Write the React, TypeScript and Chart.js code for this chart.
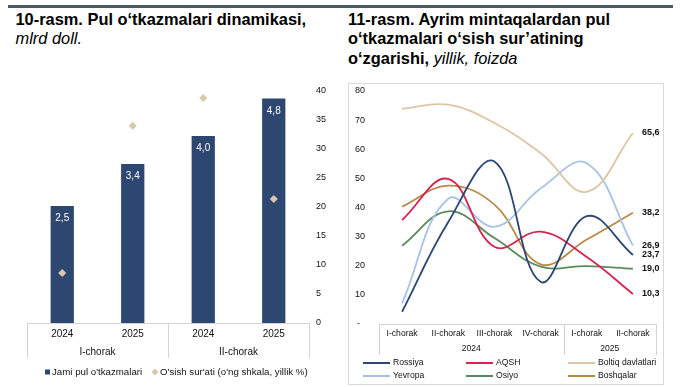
import React, { useEffect, useRef } from 'react';
import { Chart, registerables } from 'chart.js';

Chart.register(...registerables);

const FONT = '"Liberation Sans", Arial, Helvetica, sans-serif';

// ---- Left chart (10-rasm) data ----
const leftYears = ['2024', '2025', '2024', '2025'];
const leftGroups = ['I-chorak', 'II-chorak'];
const totalTransfers = [2.5, 3.4, 4.0, 4.8];
const growthRate = [8.6, 34.0, 38.8, 21.4];
const leftLegend = ["Jami pul o'tkazmalari", "O'sish sur'ati (o'ng shkala, yillik %)"];

// ---- Right chart (11-rasm) data ----
const quarters = ['I-chorak', 'II-chorak', 'III-chorak', 'IV-chorak', 'I-chorak', 'II-chorak'];
const quarterYears = ['2024', '2025'];
const rossiya = [4.2, 35.0, 55.8, 14.5, 37.0, 23.7];
const aqsh = [35.7, 49.8, 26.5, 31.7, 23.0, 10.3];
const boltiq = [73.9, 75.3, 69.0, 58.7, 45.4, 65.6];
const yevropa = [7.1, 43.0, 33.4, 46.5, 55.2, 26.9];
const osiyo = [26.9, 38.7, 29.5, 19.7, 19.9, 19.0];
const boshqalar = [40.3, 47.5, 41.0, 20.5, 29.0, 38.2];

const fmt = (v: number) => v.toFixed(1).replace('.', ',');

const BAR_COLOR = '#2E4770';
const DIAMOND_COLOR = '#D8C8AC';
const GRID_LINE = '#D3D3D3';
const TEXT = '#111111';

const leftDecor = {
  id: 'leftDecor',
  afterDraw(chart: any) {
    const ctx = chart.ctx as CanvasRenderingContext2D;
    const x = chart.scales.x;
    const a = chart.chartArea;
    ctx.save();
    ctx.strokeStyle = GRID_LINE;
    ctx.lineWidth = 1;
    ctx.beginPath();
    ctx.moveTo(a.left, Math.round(a.bottom) + 0.5);
    ctx.lineTo(a.right, Math.round(a.bottom) + 0.5);
    const mid = (x.getPixelForValue(1) + x.getPixelForValue(2)) / 2;
    [a.left, mid, a.right].forEach((px: number) => {
      const xx = Math.round(px) + 0.5;
      ctx.moveTo(xx, a.bottom);
      ctx.lineTo(xx, a.bottom + 35);
    });
    ctx.stroke();

    ctx.fillStyle = TEXT;
    ctx.font = `10px ${FONT}`;
    ctx.textAlign = 'center';
    ctx.textBaseline = 'middle';
    leftYears.forEach((y, i) => ctx.fillText(y, x.getPixelForValue(i), a.bottom + 11.5));
    leftGroups.forEach((g, gi) => {
      const c = (x.getPixelForValue(gi * 2) + x.getPixelForValue(gi * 2 + 1)) / 2;
      ctx.fillText(g, c, a.bottom + 29.5);
    });

    // bar value labels
    const meta = chart.getDatasetMeta(0);
    ctx.fillStyle = '#FFFFFF';
    ctx.font = `10px ${FONT}`;
    meta.data.forEach((bar: any, i: number) => {
      ctx.fillText(fmt(totalTransfers[i]), bar.x, bar.y + 12.5);
    });

    // legend
    const ly = 372;
    ctx.fillStyle = BAR_COLOR;
    ctx.fillRect(45, ly - 2.5, 5, 5);
    ctx.fillStyle = TEXT;
    ctx.textAlign = 'left';
    ctx.font = `9.7px ${FONT}`;
    ctx.fillText(leftLegend[0], 52, ly);
    ctx.fillStyle = DIAMOND_COLOR;
    ctx.beginPath();
    ctx.moveTo(155, ly - 3.5);
    ctx.lineTo(158.5, ly);
    ctx.lineTo(155, ly + 3.5);
    ctx.lineTo(151.5, ly);
    ctx.closePath();
    ctx.fill();
    ctx.fillStyle = TEXT;
    ctx.fillText(leftLegend[1], 160, ly);
    ctx.restore();
  },
};

const rightDecor = {
  id: 'rightDecor',
  beforeDraw(chart: any) {
    const ctx = chart.ctx as CanvasRenderingContext2D;
    ctx.save();
    ctx.strokeStyle = '#D9D9D9';
    ctx.lineWidth = 1;
    ctx.strokeRect(8.5, 83.5, 315, 301);
    ctx.restore();
  },
  afterDraw(chart: any) {
    const ctx = chart.ctx as CanvasRenderingContext2D;
    const x = chart.scales.x;
    const y = chart.scales.y;
    const a = chart.chartArea;
    ctx.save();
    ctx.strokeStyle = GRID_LINE;
    ctx.lineWidth = 1;
    ctx.beginPath();
    const by = Math.round(a.bottom) + 0.5;
    ctx.moveTo(a.left, by);
    ctx.lineTo(a.right, by);
    const mid = (x.getPixelForValue(3) + x.getPixelForValue(4)) / 2;
    [a.left, mid, a.right].forEach((px: number) => {
      const xx = Math.round(px) + 0.5;
      ctx.moveTo(xx, a.bottom);
      ctx.lineTo(xx, a.bottom + 31);
    });
    ctx.stroke();

    ctx.fillStyle = TEXT;
    ctx.font = `8.6px ${FONT}`;
    ctx.textAlign = 'center';
    ctx.textBaseline = 'middle';
    quarters.forEach((q, i) => ctx.fillText(q, x.getPixelForValue(i), a.bottom + 10));
    ctx.fillText(quarterYears[0], (a.left + mid) / 2, a.bottom + 25);
    ctx.fillText(quarterYears[1], (mid + a.right) / 2, a.bottom + 25);

    // end labels
    ctx.font = `bold 9px ${FONT}`;
    ctx.textAlign = 'left';
    const last = quarters.length - 1;
    chart.data.datasets.forEach((ds: any) => {
      const v = ds.data[last];
      ctx.fillText(fmt(v), x.getPixelForValue(last) + 9, y.getPixelForValue(v));
    });

    // legend
    const cols = [23, 126, 228];
    const rows = [363, 376];
    ctx.font = `8.6px ${FONT}`;
    ctx.lineWidth = 2;
    chart.data.datasets.forEach((ds: any, i: number) => {
      const cx = cols[i % 3];
      const cy = rows[Math.floor(i / 3)];
      ctx.strokeStyle = ds.borderColor;
      ctx.beginPath();
      ctx.moveTo(cx, cy);
      ctx.lineTo(cx + 27, cy);
      ctx.stroke();
      ctx.fillStyle = TEXT;
      ctx.fillText(ds.label, cx + 30, cy);
    });
    ctx.restore();
  },
};

function LeftChart() {
  const ref = useRef<HTMLCanvasElement>(null);
  useEffect(() => {
    const chart = new Chart(ref.current as HTMLCanvasElement, {
      type: 'bar',
      data: {
        labels: leftYears,
        datasets: [
          {
            type: 'bar',
            label: leftLegend[0],
            data: totalTransfers,
            backgroundColor: BAR_COLOR,
            borderWidth: 0,
            barPercentage: 0.33,
            categoryPercentage: 1,
            yAxisID: 'y',
            order: 2,
          } as any,
          {
            type: 'line',
            label: leftLegend[1],
            data: growthRate,
            showLine: false,
            pointStyle: 'rectRot',
            pointRadius: 4,
            pointBackgroundColor: DIAMOND_COLOR,
            pointBorderColor: DIAMOND_COLOR,
            pointBorderWidth: 0,
            yAxisID: 'y1',
            order: 1,
          } as any,
        ],
      },
      options: {
        animation: false,
        responsive: false,
        events: [],
        layout: { padding: { left: 27, top: 91, bottom: 64, right: 0 } },
        plugins: { legend: { display: false }, tooltip: { enabled: false } },
        scales: {
          x: { display: false, grid: { display: false } },
          y: { display: false, min: 0, max: 4.96 },
          y1: {
            position: 'right',
            min: 0,
            max: 40,
            grid: { display: false, drawTicks: false },
            border: { display: false },
            ticks: { stepSize: 5, padding: 7, color: TEXT, font: { family: FONT, size: 9 } },
            afterFit: (s: any) => {
              s.width = 31;
            },
          },
        },
      } as any,
      plugins: [leftDecor],
    });
    return () => chart.destroy();
  }, []);
  return <canvas ref={ref} width={340} height={387} style={{ position: 'absolute', left: 0, top: 0, width: 340, height: 387 }} />;
}

function RightChart() {
  const ref = useRef<HTMLCanvasElement>(null);
  useEffect(() => {
    const mk = (label: string, data: number[], color: string) => ({
      label,
      data,
      borderColor: color,
      backgroundColor: color,
      borderWidth: 1.8,
      pointRadius: 0,
      tension: 0.4,
      fill: false,
    });
    const chart = new Chart(ref.current as HTMLCanvasElement, {
      type: 'line',
      data: {
        labels: quarters,
        datasets: [
          mk('Rossiya', rossiya, '#2C4675'),
          mk('AQSH', aqsh, '#D6244F'),
          mk('Boltiq davlatlari', boltiq, '#DCC6A6'),
          mk('Yevropa', yevropa, '#A8C2E4'),
          mk('Osiyo', osiyo, '#5A8B5C'),
          mk('Boshqalar', boshqalar, '#B88A4A'),
        ],
      },
      options: {
        animation: false,
        responsive: false,
        events: [],
        layout: { padding: { left: 0, top: 91, bottom: 63, right: 24 } },
        plugins: { legend: { display: false }, tooltip: { enabled: false } },
        scales: {
          x: { display: false, offset: true },
          y: {
            min: 0,
            max: 80,
            grid: { display: false, drawTicks: false },
            border: { display: false },
            ticks: {
              stepSize: 10,
              padding: 14,
              color: TEXT,
              font: { family: FONT, size: 9 },
              callback: (v: any) => (v === 0 ? '-  ' : String(v)),
            },
            afterFit: (s: any) => {
              s.width = 39;
            },
          },
        },
      } as any,
      plugins: [rightDecor],
    });
    return () => chart.destroy();
  }, []);
  return <canvas ref={ref} width={340} height={387} style={{ position: 'absolute', left: 340, top: 0, width: 340, height: 387 }} />;
}

export default function App() {
  const titleStyle: React.CSSProperties = {
    position: 'absolute',
    top: 9.6,
    fontFamily: FONT,
    fontSize: 16.4,
    lineHeight: '19.8px',
    fontWeight: 'bold',
    color: '#000',
    margin: 0,
    whiteSpace: 'nowrap',
  };
  return (
    <div style={{ position: 'fixed', left: 0, top: 0, width: 680, height: 387, background: '#fff', overflow: 'hidden' }}>
      <div style={{ position: 'absolute', left: 8, top: 5, width: 665, height: 3, background: '#4E5A68' }} />
      <div style={{ ...titleStyle, left: 15.5 }}>
        10-rasm. Pul o‘tkazmalari dinamikasi,
        <br />
        <span style={{ fontWeight: 'normal', fontStyle: 'italic' }}>mlrd doll.</span>
      </div>
      <div style={{ ...titleStyle, left: 348 }}>
        11-rasm. Ayrim mintaqalardan pul
        <br />
        o‘tkazmalari o‘sish sur’atining
        <br />
        o‘zgarishi, <span style={{ fontWeight: 'normal', fontStyle: 'italic' }}>yillik, foizda</span>
      </div>
      <LeftChart />
      <RightChart />
    </div>
  );
}
